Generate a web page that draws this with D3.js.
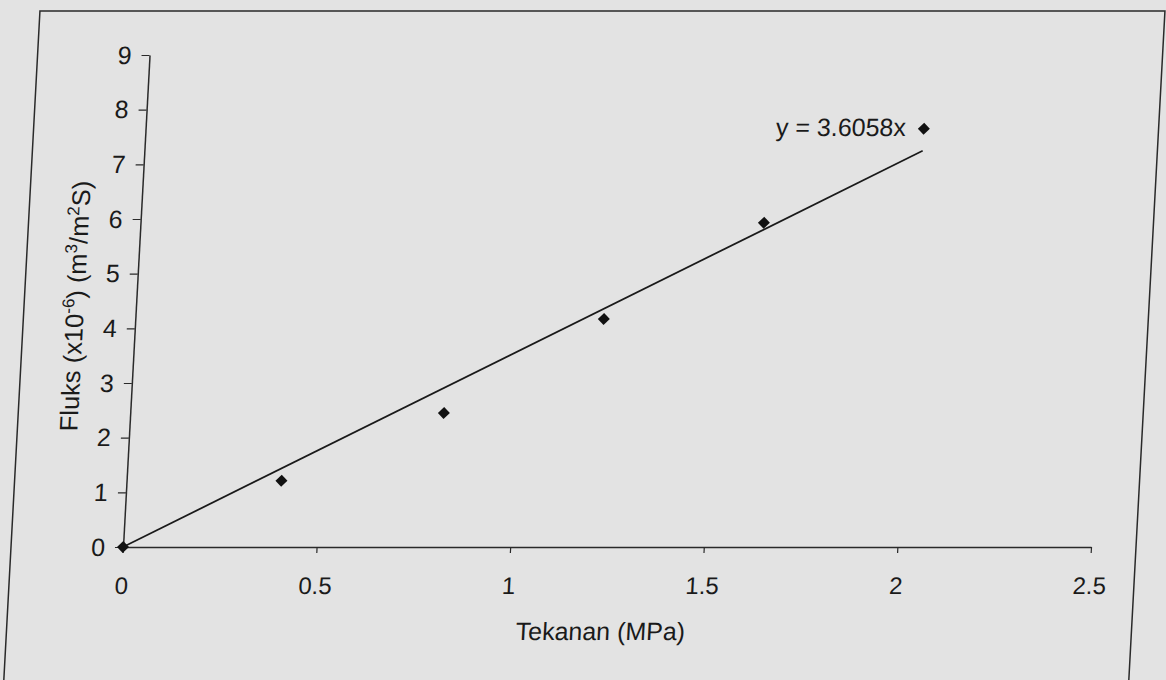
<!DOCTYPE html>
<html>
<head>
<meta charset="utf-8">
<script src="https://cdn.jsdelivr.net/npm/d3@7"></script>
<style>
  html, body { margin: 0; padding: 0; background: #e3e3e3; }
  svg { display: block; }
  text { font-family: Arial, "Liberation Sans", sans-serif; fill: #1a1a1a; }
</style>
</head>
<body>
<script>
// ---- data ----
const pressure = [0, 0.40, 0.81, 1.21, 1.61, 2.01];      // Tekanan (MPa)
const flux     = [0, 1.21, 2.45, 4.17, 5.93, 7.65];      // Fluks (x10^-6) (m3/m2S)
const slope    = 3.6058;                                  // trendline y = 3.6058x
const xTicks   = [0, 0.5, 1, 1.5, 2, 2.5];
const xTickLabels = ["0", "0.5", "1", "1.5", "2", "2.5"];
const yTicks   = [0, 1, 2, 3, 4, 5, 6, 7, 8, 9];
const yTickLabels = ["0", "1", "2", "3", "4", "5", "6", "7", "8", "9"];
const xTitle   = "Tekanan (MPa)";
const equation = "y = 3.6058x";

const W = 1166, H = 680;
const svg = d3.select("body").append("svg").attr("width", W).attr("height", H);

svg.append("rect").attr("width", W).attr("height", H).attr("fill", "#e3e3e3");

// scanned page is slightly sheared; reproduce with a skew about the x-axis line
const axisY = 547;
const shear = 0.054;
const g = svg.append("g")
  .attr("transform", `translate(${shear * axisY},0) skewX(${-Math.atan(shear) * 180 / Math.PI})`);

// outer chart frame
g.append("rect")
  .attr("x", 11).attr("y", 11).attr("width", 1125).attr("height", 720)
  .attr("fill", "none").attr("stroke", "#2a2a2a").attr("stroke-width", 1.5);

const x = d3.scaleLinear().domain([0, 2.5]).range([123, 1091]);
const y = d3.scaleLinear().domain([0, 9]).range([axisY, 55]);

// x axis
const xAxis = g.append("g").attr("transform", `translate(0,${axisY})`)
  .call(d3.axisBottom(x).tickValues(xTicks).tickFormat((d, i) => xTickLabels[i])
    .tickSize(6).tickPadding(24).tickSizeOuter(0));
xAxis.select(".domain").attr("stroke", "#2a2a2a").attr("stroke-width", 1.5);
xAxis.selectAll(".tick line").attr("stroke", "#2a2a2a").attr("stroke-width", 1.2);
xAxis.selectAll(".tick text").attr("font-size", 24).attr("fill", "#1a1a1a")
  .attr("font-family", "Arial, 'Liberation Sans', sans-serif");

// y axis
const yAxis = g.append("g").attr("transform", `translate(${x(0)},0)`)
  .call(d3.axisLeft(y).tickValues(yTicks).tickFormat((d, i) => yTickLabels[i])
    .tickSize(8).tickPadding(10).tickSizeOuter(0));
yAxis.select(".domain").attr("stroke", "#2a2a2a").attr("stroke-width", 1.5);
yAxis.selectAll(".tick line").attr("stroke", "#2a2a2a").attr("stroke-width", 1.2);
yAxis.selectAll(".tick text").attr("font-size", 25).attr("fill", "#1a1a1a")
  .attr("font-family", "Arial, 'Liberation Sans', sans-serif");

// trendline through origin
const xMax = d3.max(pressure);
g.append("line")
  .attr("x1", x(0)).attr("y1", y(0))
  .attr("x2", x(xMax)).attr("y2", y(slope * xMax))
  .attr("stroke", "#1a1a1a").attr("stroke-width", 1.8);

// diamond markers
const pts = pressure.map((p, i) => [p, flux[i]]);
g.selectAll("path.pt").data(pts).enter().append("path")
  .attr("class", "pt")
  .attr("d", d3.symbol().type(d3.symbolSquare).size(72))
  .attr("transform", d => `translate(${x(d[0])},${y(d[1])}) rotate(45)`)
  .attr("fill", "#111");

// equation label
const last = pts[pts.length - 1];
g.append("text")
  .attr("x", x(last[0]) - 18).attr("y", y(last[1]) + 7)
  .attr("text-anchor", "end").attr("font-size", 25)
  .text(equation);

// x title
g.append("text")
  .attr("x", 605).attr("y", 640)
  .attr("text-anchor", "middle").attr("font-size", 25)
  .text(xTitle);

// y title with superscripts
const yt = g.append("text")
  .attr("transform", "translate(71,306) rotate(-90)")
  .attr("text-anchor", "middle").attr("font-size", 25.5);
const parts = [
  ["Fluks (x10", false], ["-6", true], [") (m", false], ["3", true],
  ["/m", false], ["2", true], ["S)", false]
];
let prevSup = false;
parts.forEach(([t, sup]) => {
  const ts = yt.append("tspan").text(t);
  if (sup) { ts.attr("font-size", 17).attr("dy", -10); prevSup = true; }
  else if (prevSup) { ts.attr("dy", 10); prevSup = false; }
});
</script>
</body>
</html>
